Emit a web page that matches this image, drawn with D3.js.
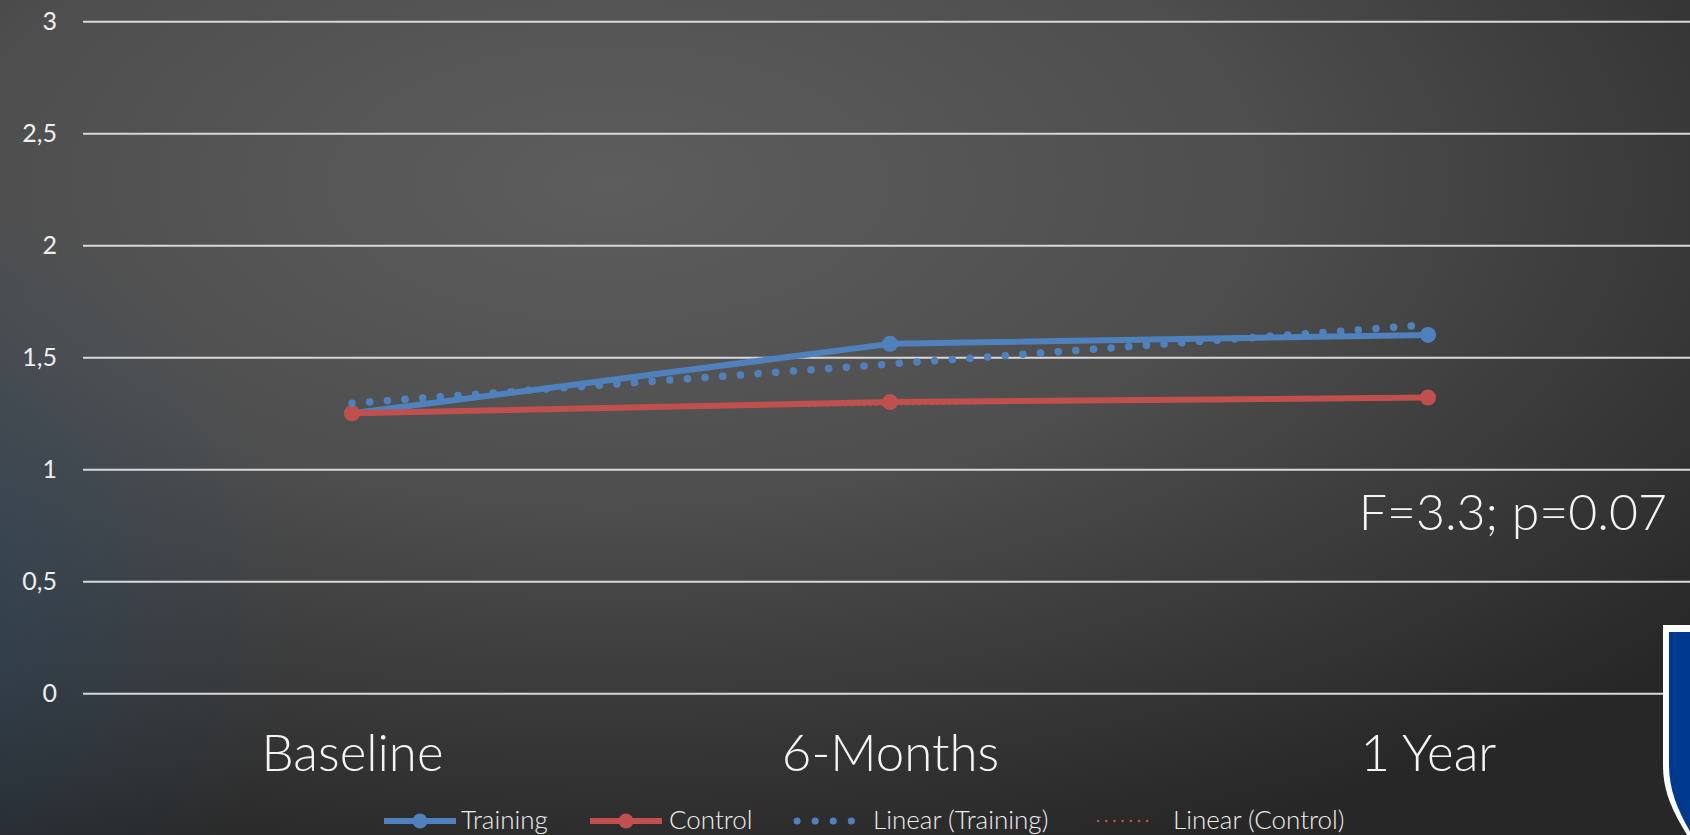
<!DOCTYPE html>
<html>
<head>
<meta charset="utf-8">
<script src="https://cdn.jsdelivr.net/npm/d3@7"></script>
<style>
  html, body { margin: 0; padding: 0; overflow: hidden; background: #3a3a3a; }
  svg { display: block; font-family: "Lato", "Noto Sans", sans-serif; }
</style>
</head>
<body>
<svg id="chart" width="1690" height="835"></svg>
<script>
const categories = ["Baseline", "6-Months", "1 Year"];
const training = [1.25, 1.56, 1.60];
const control = [1.25, 1.30, 1.32];
const yTicks = [0, 0.5, 1, 1.5, 2, 2.5, 3];
const statText = "F=3.3; p=0.07";
const legendItems = ["Training", "Control", "Linear (Training)", "Linear (Control)"];

const blue = "#4f81bd";
const red = "#c0504d";
const width = 1690;
const height = 835;

const svg = d3.select("#chart");
const defs = svg.append("defs");

// background: dark radial glow, bluish towards the lower left
const bg = defs.append("radialGradient").attr("id", "bg")
  .attr("cx", "0.36").attr("cy", "0.22").attr("r", "0.85");
bg.append("stop").attr("offset", "0").attr("stop-color", "#5d5d5d");
bg.append("stop").attr("offset", "0.45").attr("stop-color", "#4e4e4e");
bg.append("stop").attr("offset", "1").attr("stop-color", "#272727");
const side = defs.append("radialGradient").attr("id", "side")
  .attr("gradientUnits", "userSpaceOnUse")
  .attr("cx", -120).attr("cy", 600).attr("r", 420);
side.append("stop").attr("offset", "0").attr("stop-color", "#2d4d6b").attr("stop-opacity", 0.55);
side.append("stop").attr("offset", "1").attr("stop-color", "#2d4d6b").attr("stop-opacity", 0);
svg.append("rect").attr("width", width).attr("height", height).attr("fill", "url(#bg)");
svg.append("rect").attr("width", width).attr("height", height).attr("fill", "url(#side)");

const x = d3.scalePoint().domain(categories).range([83, 1697]).padding(0.5);
const y = d3.scaleLinear().domain([0, 3]).range([693.3, 21.3]);

const locale = d3.formatLocale({decimal: ",", thousands: ".", grouping: [3], currency: ["", ""]});
const fmt = locale.format("~g");

// y axis + gridlines
const yAxis = d3.axisLeft(y).tickValues(yTicks).tickSize(-(width - 83)).tickPadding(26).tickFormat(fmt);
const yG = svg.append("g").attr("transform", "translate(83,0)").call(yAxis);
yG.select(".domain").remove();
yG.selectAll(".tick line").attr("stroke", "#d9d9d9").attr("stroke-width", 2);
yG.selectAll(".tick text").attr("fill", "#eeeeee").attr("font-size", 25).attr("font-family", "Lato");

// x axis category labels
const xAxis = d3.axisBottom(x).tickSize(0);
const xG = svg.append("g").attr("transform", "translate(0,693.3)").call(xAxis);
xG.select(".domain").remove();
xG.selectAll(".tick text").attr("y", 78).attr("dy", null)
  .attr("fill", "#f4f4f4").attr("font-size", 51).attr("font-family", "Lato").attr("font-weight", 300);

// least squares trend over category index
function trend(vals) {
  const n = vals.length;
  const xs = vals.map((d, i) => i + 1);
  const mx = d3.mean(xs), my = d3.mean(vals);
  const b = d3.sum(xs, (xi, i) => (xi - mx) * (vals[i] - my)) / d3.sum(xs, xi => (xi - mx) ** 2);
  const a = my - b * mx;
  return [a + b * xs[0], a + b * xs[n - 1]];
}

const line = d3.line().x(d => x(d.c)).y(d => y(d.v));
const toPts = vals => vals.map((v, i) => ({c: categories[i], v: v}));

const trT = trend(training);
const trC = trend(control);
const ends = [categories[0], categories[categories.length - 1]];

// control trend (thin red dots), mostly hidden by the control line
svg.append("path").datum(trC.map((v, i) => ({c: ends[i], v: v})))
  .attr("d", line).attr("fill", "none").attr("stroke", red)
  .attr("stroke-width", 3).attr("stroke-dasharray", "0.1 6").attr("stroke-linecap", "round");

// series lines
[[training, blue], [control, red]].forEach(([vals, col]) => {
  const g = svg.append("g");
  g.append("path").datum(toPts(vals)).attr("d", line)
    .attr("fill", "none").attr("stroke", col).attr("stroke-width", 6).attr("stroke-linejoin", "round");
  g.selectAll("circle").data(toPts(vals)).join("circle")
    .attr("cx", d => x(d.c)).attr("cy", d => y(d.v)).attr("r", 8).attr("fill", col);
});

// training trend (round blue dots)
svg.append("path").datum(trT.map((v, i) => ({c: ends[i], v: v})))
  .attr("d", line).attr("fill", "none").attr("stroke", blue)
  .attr("stroke-width", 7.5).attr("stroke-dasharray", "0.1 17.6").attr("stroke-linecap", "round");

// statistic
svg.append("text").attr("x", 1667).attr("y", 530).attr("text-anchor", "end")
  .attr("fill", "#f4f4f4").attr("font-size", 50).attr("font-weight", 300).text(statText);

// legend
const swatchX = [384, 590, 793, 1095];
const textX = [461, 669, 873, 1173];
const lg = svg.append("g").attr("transform", "translate(0,821)");
legendItems.forEach((name, i) => {
  const g = lg.append("g");
  const sx = swatchX[i];
  if (i < 2) {
    const col = i === 0 ? blue : red;
    g.append("line").attr("x1", sx).attr("x2", sx + 72).attr("stroke", col).attr("stroke-width", 6);
    g.append("circle").attr("cx", sx + 36).attr("r", 7.5).attr("fill", col);
  } else if (i === 2) {
    g.append("line").attr("x1", sx + 4).attr("x2", sx + 59).attr("stroke", blue)
      .attr("stroke-width", 7).attr("stroke-dasharray", "0.1 18").attr("stroke-linecap", "round");
  } else {
    g.append("line").attr("x1", sx + 3).attr("x2", sx + 60).attr("stroke", red)
      .attr("stroke-width", 2.5).attr("stroke-dasharray", "0.1 8.1").attr("stroke-linecap", "round");
  }
  g.append("text").attr("x", textX[i]).attr("y", 8)
    .attr("fill", "#eeeeee").attr("font-size", 26).attr("font-weight", 300).text(name);
});

// shield logo, cut by the right edge
const logo = svg.append("g");
logo.append("path")
  .attr("d", "M1663,625 L1700,625 L1700,840 L1690,840 C1675,815 1663,795 1663,765 Z")
  .attr("fill", "#ffffff");
logo.append("path")
  .attr("d", "M1669,632 L1700,632 L1700,840 L1695,840 C1680,815 1669,793 1669,765 Z")
  .attr("fill", "#003a8f");
</script>
</body>
</html>
